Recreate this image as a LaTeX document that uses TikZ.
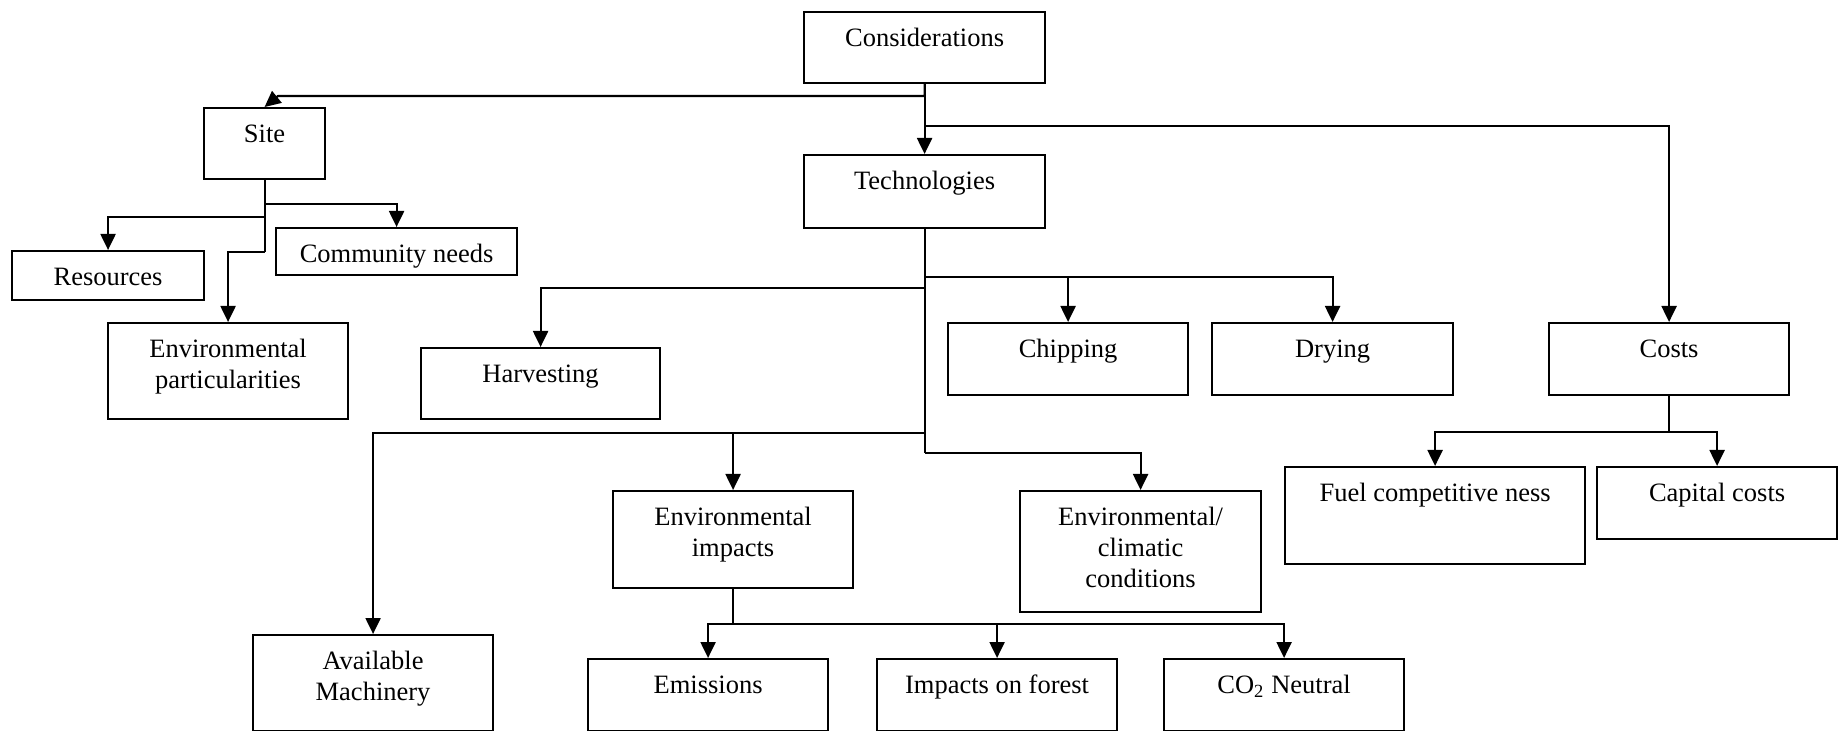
\documentclass[tikz,border=0pt]{standalone}
\usepackage{fontspec}
\setmainfont{Liberation Serif}
\usetikzlibrary{arrows.meta,calc}

\tikzset{
  bx/.style={draw, line width=0.85pt, inner sep=0pt},
  lbl/.style={anchor=base, align=center, inner sep=0pt,
              font=\fontsize{10.6}{12.4}\selectfont},
  ln/.style={line width=0.85pt},
  arr/.style={line width=0.85pt, -{Triangle[length=6.4pt,width=6pt]}},
}

% box: [number of lines], name, left, top, right, bottom, text
% the text starts near the top of the box
\newcommand\tbox[7][1]{%
  \node[bx, minimum width={(#5-#3)*0.4pt}, minimum height={(#6-#4)*0.4pt},
        anchor=north west] (#2) at (#3,#4) {};
  \node[lbl] (#2-t) at ($(#2.north)+(0,{35.5+(#1-1)*31})$) {#7};
}

\begin{document}
\begin{tikzpicture}[x=0.4pt, y=-0.4pt]
\useasboundingbox (0,0) rectangle (1838,731);

% boxes
\tbox{cons}{803}{11}{1044}{82}{Considerations}
\tbox{site}{203}{107}{324}{178}{Site}
\tbox{tech}{803}{154}{1044}{227}{Technologies}
\tbox{comm}{275}{227}{516}{274}{Community needs}
\tbox{res}{11}{250}{203}{299}{Resources}
\tbox[2]{envp}{107}{322}{347}{418}{Environmental\\particularities}
\tbox{harv}{420}{347}{659}{418}{Harvesting}
\tbox{chip}{947}{322}{1187}{394}{Chipping}
\tbox{dry}{1211}{322}{1452}{394}{Drying}
\tbox{costs}{1548}{322}{1788}{394}{Costs}
\tbox{fuel}{1284}{466}{1584}{563}{Fuel competitive ness}
\tbox{cap}{1596}{466}{1836}{538}{Capital costs}
\tbox[2]{envi}{612}{490}{852}{587}{Environmental\\impacts}
\tbox[3]{envc}{1019}{490}{1260}{611}{Environmental/\\climatic\\conditions}
\tbox[2]{avail}{252}{634}{492}{730}{Available\\Machinery}
\tbox{emis}{587}{658}{827}{730}{Emissions}
\tbox{forest}{876}{658}{1116}{730}{Impacts on forest}
\tbox{co2}{1163}{658}{1403}{730}{CO\textsubscript{2} Neutral}

% Considerations branches
\coordinate (jS) at (278,96);
\draw[arr] (cons.south) |- (jS) -- (site.north);
\draw[arr] (cons.south) -- (tech.north);
\coordinate (jC) at ($(cons.south)+(0,42)$);
\draw[arr] (jC) -| (costs.north);

% Site branches
\coordinate (jS1) at ($(site.south)+(0,24)$);
\coordinate (jS2) at ($(site.south)+(0,37)$);
\coordinate (jS3) at ($(site.south)+(0,72)$);
\draw[ln] (site.south) -- (jS3);
\draw[arr] (jS1) -| (comm.north);
\draw[arr] (jS2) -| (res.north);
\draw[arr] (jS3) -| (envp.north);

% Technologies branches
\coordinate (jCD) at ($(tech.south)+(0,48)$);
\coordinate (jH)  at ($(tech.south)+(0,59)$);
\coordinate (jL)  at ($(tech.south)+(0,204)$);
\coordinate (jEC) at ($(tech.south)+(0,224)$);
\draw[ln] (tech.south) -- (jEC);
\draw[arr] (jCD) -| (chip.north);
\draw[arr] (jCD) -| (dry.north);
\draw[arr] (jH) -| (harv.north);
\draw[arr] (jL) -| (avail.north);
\draw[arr] (jL) -| (envi.north);
\draw[arr] (jEC) -| (envc.north);

% Environmental impacts branches
\coordinate (jE) at ($(envi.south)+(0,35)$);
\draw[ln] (envi.south) -- (jE);
\draw[arr] (jE) -| (emis.north);
\draw[arr] (jE) -| (forest.north);
\draw[arr] (jE) -| (co2.north);

% Costs branches
\coordinate (jK) at ($(costs.south)+(0,36)$);
\draw[ln] (costs.south) -- (jK);
\draw[arr] (jK) -| (fuel.north);
\draw[arr] (jK) -| (cap.north);
\end{tikzpicture}
\end{document}
